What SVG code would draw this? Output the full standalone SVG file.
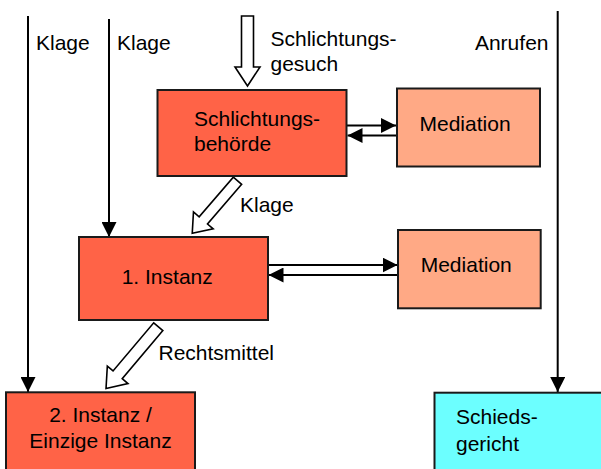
<svg xmlns="http://www.w3.org/2000/svg" width="601" height="469" viewBox="0 0 601 469">
<defs>
<style>
.box{stroke:#1a1a1a;stroke-width:2}
.red{fill:#FF6347}
.med{fill:#FFA985}
.cyan{fill:#6CFFFF}
text{font-family:"Liberation Sans",Arial,sans-serif;font-size:21px;fill:#000}
.ln{stroke:#000;stroke-width:2;fill:none}
.hollow{fill:#fff;stroke:#000;stroke-width:1.6;stroke-linejoin:miter}
</style>
<marker id="ah" viewBox="0 0 15 15" refX="15" refY="7.5" markerWidth="15" markerHeight="15" markerUnits="userSpaceOnUse" orient="auto">
<path d="M0,0 L15,7.5 L0,15 Z" fill="#000"/>
</marker>
</defs>
<rect width="601" height="469" fill="#fff"/>

<g id="connectors">
<line class="ln" x1="28" y1="16" x2="28" y2="392" marker-end="url(#ah)"/>
<line class="ln" x1="109" y1="19" x2="109" y2="237" marker-end="url(#ah)"/>
<line class="ln" x1="557.7" y1="11" x2="557.7" y2="392" marker-end="url(#ah)"/>
<line class="ln" x1="347" y1="125.5" x2="396" y2="125.5" marker-end="url(#ah)"/>
<line class="ln" x1="397" y1="135.5" x2="347.5" y2="135.5" marker-end="url(#ah)"/>
<line class="ln" x1="268" y1="265" x2="397.5" y2="265" marker-end="url(#ah)"/>
<line class="ln" x1="398" y1="275" x2="268.5" y2="275" marker-end="url(#ah)"/>
<polygon class="hollow" points="241.5,16 253.5,16 253.5,67 260,67 247.5,86 235,67 241.5,67"/>
<polygon class="hollow" transform="translate(237.5,180.7) rotate(130.7)" points="0,-5.5 52.4,-5.5 52.4,-13 69.4,0 52.4,13 52.4,5.5 0,5.5"/>
<polygon class="hollow" transform="translate(158.3,326.7) rotate(130.2)" points="0,-6 63,-6 63,-13.5 81,0 63,13.5 63,6 0,6"/>
<text x="36" y="50">Klage</text>
<text x="117" y="50">Klage</text>
<text x="270.5" y="46">Schlichtungs-</text>
<text x="270.5" y="71">gesuch</text>
<text x="548.5" y="50" text-anchor="end">Anrufen</text>
<text x="240" y="212">Klage</text>
<text x="158.5" y="360">Rechtsmittel</text>
</g>

<g id="schlichtungsbehoerde">
<rect class="box red" x="157.5" y="90" width="189" height="86"/>
<text x="194" y="126">Schlichtungs-</text>
<text x="194" y="151">behörde</text>
</g>

<g id="mediation1">
<rect class="box med" x="397" y="88.5" width="143" height="78"/>
<text x="419.5" y="131">Mediation</text>
</g>

<g id="instanz1">
<rect class="box red" x="79" y="237" width="189" height="83"/>
<text x="121.7" y="284.3">1. Instanz</text>
</g>

<g id="mediation2">
<rect class="box med" x="398" y="230" width="142.7" height="78.3"/>
<text x="420.7" y="271.7">Mediation</text>
</g>

<g id="instanz2">
<rect class="box red" x="6" y="392.3" width="189" height="90"/>
<text x="100.5" y="422.3" text-anchor="middle">2. Instanz /</text>
<text x="100.5" y="448.3" text-anchor="middle">Einzige Instanz</text>
</g>

<g id="schiedsgericht">
<rect class="box cyan" x="434.5" y="392.7" width="180" height="90"/>
<text x="456" y="424.3">Schieds-</text>
<text x="456" y="450.5">gericht</text>
</g>
</svg>
